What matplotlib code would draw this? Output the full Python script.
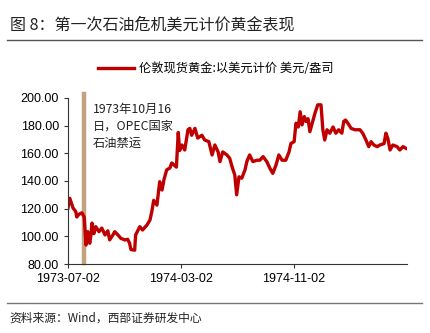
import matplotlib.pyplot as plt
import matplotlib.dates as mdates
import numpy as np
import pandas as pd

# 伦敦现货黄金 (美元/盎司)
dates = [
    '1973-07-02', '1973-07-06', '1973-07-13', '1973-07-19', '1973-07-21', '1973-07-26',
    '1973-08-01', '1973-08-06', '1973-08-10', '1973-08-14', '1973-08-18', '1973-08-21',
    '1973-08-23', '1973-08-27', '1973-08-31', '1973-09-07', '1973-09-13', '1973-09-20',
    '1973-09-26', '1973-09-30', '1973-10-07', '1973-10-11', '1973-10-18', '1973-10-24',
    '1973-11-02', '1973-11-08', '1973-11-12', '1973-11-15', '1973-11-23', '1973-11-25',
    '1973-12-04', '1973-12-10', '1973-12-19', '1973-12-26', '1973-12-30', '1974-01-03',
    '1974-01-10', '1974-01-16', '1974-01-21', '1974-01-25', '1974-01-31', '1974-02-07',
    '1974-02-11', '1974-02-21', '1974-02-25', '1974-02-28', '1974-03-05', '1974-03-11',
    '1974-03-18', '1974-03-22', '1974-03-26', '1974-04-02', '1974-04-08', '1974-04-17',
    '1974-04-23', '1974-05-02', '1974-05-09', '1974-05-15', '1974-05-22', '1974-05-26',
    '1974-06-01', '1974-06-10', '1974-06-16', '1974-06-21', '1974-06-27', '1974-07-01',
    '1974-07-06', '1974-07-12', '1974-07-19', '1974-07-23', '1974-07-29', '1974-08-05',
    '1974-08-14', '1974-08-20', '1974-08-27', '1974-09-04', '1974-09-11', '1974-09-17',
    '1974-09-24', '1974-09-30', '1974-10-07', '1974-10-15', '1974-10-22', '1974-10-26',
    '1974-11-02', '1974-11-06', '1974-11-11', '1974-11-15', '1974-11-19', '1974-11-24',
    '1974-11-28', '1974-12-02', '1974-12-06', '1974-12-11', '1974-12-17', '1974-12-23',
    '1974-12-30', '1975-01-03', '1975-01-07', '1975-01-12', '1975-01-18', '1975-01-25',
    '1975-01-31', '1975-02-06', '1975-02-13', '1975-02-17', '1975-02-21', '1975-02-26',
    '1975-03-05', '1975-03-13', '1975-03-24', '1975-03-30', '1975-04-06', '1975-04-12',
    '1975-04-17', '1975-04-23', '1975-04-30', '1975-05-06', '1975-05-15', '1975-05-19',
    '1975-05-23', '1975-05-28', '1975-06-03', '1975-06-12', '1975-06-18', '1975-06-25',
    '1975-07-01',
]
gold = [
    120.5, 127.5, 120.5, 117.8, 114.0, 116.0,
    117.0, 114.0, 93.7, 103.4, 95.0, 102.0,
    109.6, 102.0, 107.0, 103.4, 106.0, 101.0,
    104.0, 97.5, 101.0, 103.4, 101.0, 98.6,
    97.4, 97.9, 95.0, 90.5, 90.0, 101.0,
    107.0, 104.6, 108.0, 111.8, 118.0, 126.0,
    122.6, 139.5, 133.5, 140.7, 148.0, 149.4,
    153.0, 150.0, 175.0, 162.0, 166.0, 162.4,
    177.0, 178.0, 173.0, 178.0, 171.0, 173.0,
    169.6, 168.4, 158.8, 166.0, 161.0, 154.0,
    161.0, 158.8, 156.4, 150.4, 144.3, 130.0,
    143.0, 142.0, 148.0, 154.0, 158.8, 154.0,
    155.0, 155.0, 157.6, 154.0, 149.0, 145.5,
    151.6, 158.8, 155.0, 155.0, 161.0, 167.0,
    168.4, 181.7, 179.0, 190.0, 180.5, 186.5,
    183.0, 185.0, 175.6, 181.7, 189.0, 195.0,
    195.0, 177.0, 169.6, 177.0, 174.5, 179.0,
    174.5, 177.0, 174.5, 183.0, 184.0, 181.7,
    178.0, 177.0, 177.0, 174.5, 169.6, 164.8,
    168.4, 166.0, 164.8, 166.0, 167.0, 174.5,
    171.0, 162.4, 166.0, 164.8, 162.4, 164.8,
    163.6,
]
xtick_dates = ['1973-07-02', '1974-03-02', '1974-11-02']
yticks = [80, 100, 120, 140, 160, 180, 200]
embargo_date = '1973-08-06'

cjk = ['Noto Sans CJK SC', 'DejaVu Sans']
plt.rcParams['font.family'] = ['Liberation Sans', 'Noto Sans CJK SC']

fig = plt.figure(figsize=(4.30, 3.33), dpi=100)
ax = fig.add_axes([0.158, 0.207, 0.789, 0.499])

x = pd.to_datetime(dates)
ax.plot(x, gold, color='#c00000', linewidth=2.4, solid_joinstyle='round',
        label='伦敦现货黄金:以美元计价 美元/盎司')

# 禁运日期竖线
ed = pd.Timestamp(embargo_date)
ax.plot([ed, ed], [80.6, 202.5], color='#c4a27f', linewidth=3.2,
        clip_on=False, zorder=1)
ax.text(0.074, 0.83, '1973年10月16\n日，OPEC国家\n石油禁运', transform=ax.transAxes,
        family=cjk, fontsize=8.8, va='center', ha='left', linespacing=1.4,
        color='#222222')

ax.set_xlim(pd.Timestamp('1973-07-02'), pd.Timestamp('1975-07-04'))
ax.set_ylim(80, 200)
ax.set_yticks(yticks)
ax.yaxis.set_major_formatter(plt.FormatStrFormatter('%.2f'))
ax.set_xticks(pd.to_datetime(xtick_dates))
ax.xaxis.set_major_formatter(mdates.DateFormatter('%Y-%m-%d'))
ax.tick_params(axis='both', labelsize=9, colors='#333333', labelcolor='black',
               length=3, width=0.8)
for side in ('top', 'right'):
    ax.spines[side].set_visible(False)
for side in ('left', 'bottom'):
    ax.spines[side].set_color('#333333')
    ax.spines[side].set_linewidth(0.8)

leg = fig.legend(loc='center', bbox_to_anchor=(0.502, 0.793), frameon=False,
                 prop={'family': cjk, 'size': 8.8}, handlelength=2.9,
                 handletextpad=0.4)

# 标题与来源
fig.text(0.023, 0.925, '图 8：第一次石油危机美元计价黄金表现', family=cjk,
         fontsize=11.5, va='center', ha='left', color='#222222')
fig.add_artist(plt.Line2D([0.016, 0.982], [0.88, 0.88], color='#555555',
                          linewidth=1.0, transform=fig.transFigure))
fig.add_artist(plt.Line2D([0.016, 0.982], [0.09, 0.09], color='#777777',
                          linewidth=1.0, transform=fig.transFigure))
fig.text(0.023, 0.045, '资料来源：Wind，西部证券研发中心', family=cjk,
         fontsize=8.5, va='center', ha='left', color='#222222')

fig.savefig('out.png', dpi=100)
